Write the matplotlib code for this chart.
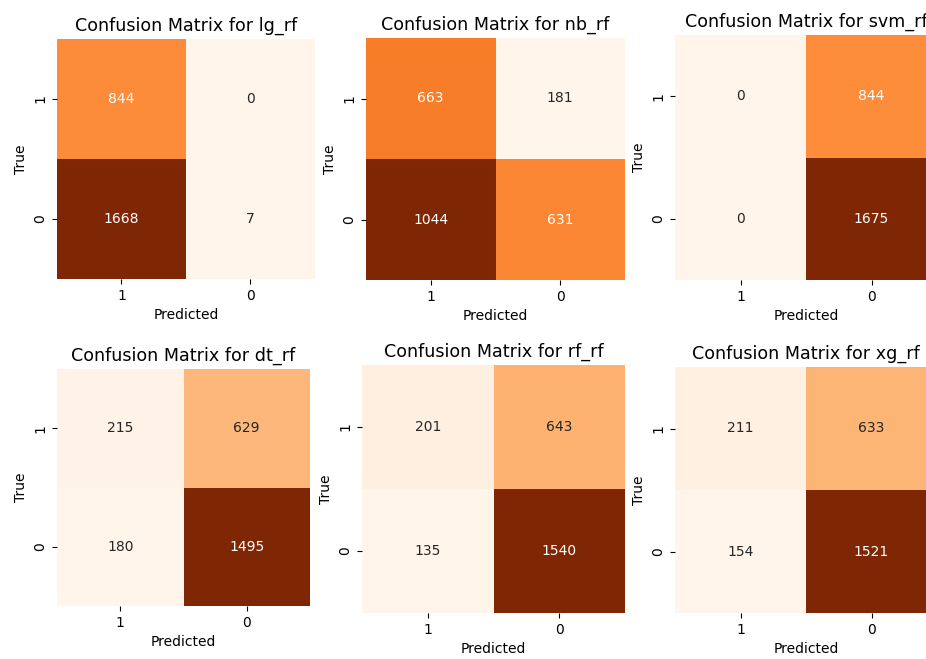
import numpy as np
import matplotlib
matplotlib.use("Agg")
import matplotlib.pyplot as plt
import seaborn as sns

models = ["lg_rf", "nb_rf", "svm_rf", "dt_rf", "rf_rf", "xg_rf"]
lg_rf = [[844, 0], [1668, 7]]
nb_rf = [[663, 181], [1044, 631]]
svm_rf = [[0, 844], [0, 1675]]
dt_rf = [[215, 629], [180, 1495]]
rf_rf = [[201, 643], [135, 1540]]
xg_rf = [[211, 633], [154, 1521]]
matrices = [lg_rf, nb_rf, svm_rf, dt_rf, rf_rf, xg_rf]
tick_labels = ["1", "0"]

W, H = 926, 659
fig = plt.figure(figsize=(W / 100, H / 100), dpi=100)

# panel boxes in pixels: x0, x1, y0 (top), y1 (bottom)
boxes = [
    (57, 315, 39, 279),
    (366, 625, 38, 280),
    (675, 937, 35, 280),
    (57, 310, 369, 606),
    (362, 625, 365, 613),
    (675, 937, 367, 613),
]

for name, mat, (x0, x1, y0, y1) in zip(models, matrices, boxes):
    ax = fig.add_axes([x0 / W, 1 - y1 / H, (x1 - x0) / W, (y1 - y0) / H])
    sns.heatmap(np.array(mat), annot=True, fmt="d", cmap="Oranges", cbar=False,
                xticklabels=tick_labels, yticklabels=tick_labels, ax=ax,
                annot_kws={"fontsize": 10})
    ax.set_title(f"Confusion Matrix for {name}", fontsize=12.6)
    ax.set_xlabel("Predicted", fontsize=10)
    ax.set_ylabel("True", fontsize=10)
    ax.tick_params(labelsize=10)
    plt.setp(ax.get_yticklabels(), rotation=90, va="center")
    plt.setp(ax.get_xticklabels(), rotation=0)

fig.savefig("out.png", dpi=100)
